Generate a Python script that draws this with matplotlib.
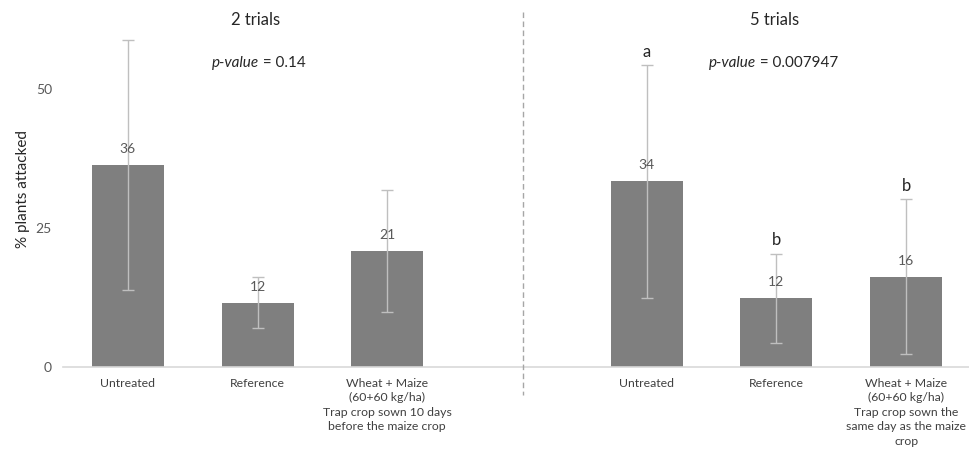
import matplotlib
matplotlib.use("Agg")
import matplotlib.pyplot as plt
from matplotlib.lines import Line2D

plt.rcParams['font.family'] = ['Lato', 'DejaVu Sans']

# Data
categories = ["Untreated", "Reference",
              "Wheat + Maize\n(60+60 kg/ha)\nTrap crop sown 10 days\nbefore the maize crop",
              "Untreated", "Reference",
              "Wheat + Maize\n(60+60 kg/ha)\nTrap crop sown the\nsame day as the maize\ncrop"]
positions = [0, 1, 2, 4, 5, 6]
means = [36.4, 11.5, 20.8, 33.4, 12.3, 16.2]
errors = [22.6, 4.6, 11.0, 21.0, 8.0, 14.0]
value_labels = ["36", "12", "21", "34", "12", "16"]
letters = ["", "", "", "a", "b", "b"]
panel_titles = ["2 trials", "5 trials"]
pvalues = ["0.14", "0.007947"]
yticks = [0, 25, 50]

W, H = 970, 453
fig = plt.figure(figsize=(W / 100, H / 100), dpi=100)

# axes layout in pixels
ax_left, ax_right = 63, 971
ax_bottom_px = 366.5
px_per_unit = 5.54
ymax = 64
ax_h = ymax * px_per_unit
ax = fig.add_axes([ax_left / W, (H - ax_bottom_px) / H,
                   (ax_right - ax_left) / W, ax_h / H])

bar_color = "#7f7f7f"
err_color = "#bfbfbf"
text_gray = "#595959"

ax.bar(positions, means, width=0.556, color=bar_color, zorder=2)
ax.errorbar(positions, means, yerr=errors, fmt="none", ecolor=err_color,
            elinewidth=1, capsize=4, capthick=1, zorder=3)

for x, m, lab in zip(positions, means, value_labels):
    ax.text(x, m + 1.8, lab, ha="center", va="bottom", fontsize=10,
            color=text_gray, zorder=4)

for x, m, e, let in zip(positions, means, errors, letters):
    if let:
        ax.text(x, m + e + 1.0, let, ha="center", va="bottom", fontsize=12,
                color="#262626", zorder=4)

ax.set_xlim(-0.5, 6.5)
ax.set_ylim(0, ymax)
ax.set_yticks(yticks)
ax.set_yticklabels([str(t) for t in yticks], fontsize=10, color=text_gray)
ax.set_xticks(positions)
ax.set_xticklabels(categories, fontsize=8.8, color="#404040", linespacing=1.4, va="top")
ax.tick_params(axis="both", length=0)
ax.tick_params(axis="y", pad=8)
ax.tick_params(axis="x", pad=8)
for side in ["top", "right", "left"]:
    ax.spines[side].set_visible(False)
ax.spines["bottom"].set_color("#d9d9d9")
ax.spines["bottom"].set_linewidth(1.2)

ax.set_ylabel("% plants attacked", fontsize=11, color="#262626", labelpad=4)

# panel headings
for cx, title in zip([256, 775], panel_titles):
    fig.text(cx / W, 1 - 20 / H, title, ha="center", va="center",
             fontsize=12, color="#262626")

# p-value lines built from an italic part and a regular part
fig.canvas.draw()
renderer = fig.canvas.get_renderer()
for cx, pv in zip([259, 774], pvalues):
    italic = fig.text(0, 1 - 63 / H, "p-value", fontsize=11, style="italic",
                      color="#262626", va="center")
    rest = fig.text(0, 1 - 63 / H, " = " + pv, fontsize=11, color="#262626",
                    va="center")
    w1 = italic.get_window_extent(renderer).width
    w2 = rest.get_window_extent(renderer).width
    x0 = cx - (w1 + w2) / 2
    italic.set_x(x0 / W)
    rest.set_x((x0 + w1) / W)

# dashed separator between the two panels
fig.add_artist(Line2D([523 / W, 523 / W], [1 - 12 / H, 1 - 395 / H],
                      transform=fig.transFigure, color="#a6a6a6",
                      linestyle=(0, (4, 2.5)), linewidth=1))

fig.savefig("out.png", dpi=100)
